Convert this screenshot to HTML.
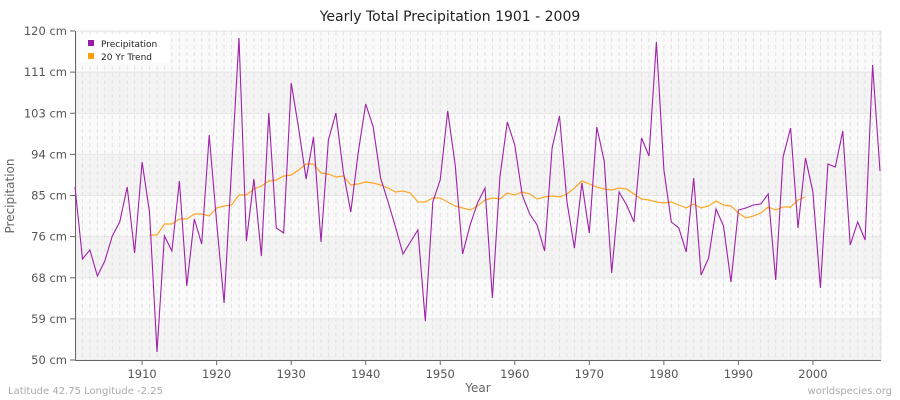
<!DOCTYPE html>
<html><head><meta charset="utf-8"><style>
body{margin:0;background:#fff;}
svg{display:block;font-family:"DejaVu Sans","Liberation Sans",sans-serif;}
</style></head><body>
<svg id="s" width="900" height="400" xmlns="http://www.w3.org/2000/svg">
<rect width="900" height="400" fill="#fff"/>
<g id="bands"></g>
<g id="grid"></g>
<rect x="76" y="31" width="805" height="329" fill="none" stroke="#e4e4e4"/>
<line x1="75.5" y1="31" x2="75.5" y2="360" stroke="#666"/>
<line x1="75" y1="360.5" x2="881" y2="360.5" stroke="#666"/>
<g id="ticks" font-size="11.5" fill="#555"></g>
<polyline id="trend" fill="none" stroke="#ffa726" stroke-width="1.2"/>
<polyline id="prec" fill="none" stroke="#a020a8" stroke-width="1.1"/>
<text x="450" y="21" text-anchor="middle" font-size="14" fill="#222">Yearly Total Precipitation 1901 - 2009</text>
<text x="478" y="392" text-anchor="middle" font-size="12" fill="#666">Year</text>
<text transform="translate(14,196) rotate(-90)" text-anchor="middle" font-size="12" fill="#666">Precipitation</text>
<text x="8" y="394" font-size="10" fill="#aaa">Latitude 42.75 Longitude -2.25</text>
<text x="892" y="394" text-anchor="end" font-size="10" fill="#aaa">worldspecies.org</text>
<rect x="80" y="34" width="90" height="29" rx="3" fill="#fff" opacity="0.9"/>
<rect x="88" y="40" width="6" height="6" fill="#9c1aa2"/>
<rect x="88" y="53" width="6" height="6" fill="#ffa000"/>
<text x="101" y="47" font-size="9" fill="#222">Precipitation</text>
<text x="101" y="60" font-size="9" fill="#222">20 Yr Trend</text>
</svg>
<script>
var NS="http://www.w3.org/2000/svg";
function el(p,t,a){var e=document.createElementNS(NS,t);for(var k in a)e.setAttribute(k,a[k]);document.getElementById(p).appendChild(e);return e;}
var X=function(y){return 75+(y-1901)*7.454;};
var labs=["120 cm","111 cm","103 cm","94 cm","85 cm","76 cm","68 cm","59 cm","50 cm"];
for(var i=0;i<8;i++){var y0=31+i*41.125;el("bands","rect",{x:76,y:y0,width:805,height:41.125,fill:(i%2?"#f3f3f3":"#fafafa")});}
for(var i=0;i<9;i++){var y=31+i*41.125;el("grid","line",{x1:76,x2:881,y1:y,y2:y,stroke:"#e6e6e6"});
var t=el("ticks","text",{x:67,y:y+4,"text-anchor":"end"});t.textContent=labs[i];el("ticks","line",{x1:70,x2:75,y1:y,y2:y,stroke:"#666"});}
for(var yr=1902;yr<=2009;yr++){el("grid","line",{x1:X(yr),x2:X(yr),y1:31,y2:360,stroke:"#e2e2e2","stroke-dasharray":"4,3"});}
for(var yr=1910;yr<=2000;yr+=10){var x=X(yr);el("ticks","line",{x1:x,x2:x,y1:360,y2:365,stroke:"#666"});var t=el("ticks","text",{x:x,y:378,"text-anchor":"middle"});t.textContent=yr;}
var P=[187,259,250,276,261,236,222,187,253,162,212,352,236,251,181,286,219,244,135,222,303,170,38,241,179,256,113,228,233,83,128,179,137,242,140,113,172,212,152,104,127,178,202,227,254,242,230,321,202,180,111,165,254,225,203,188,298,177,122,145,195,214,225,251,148,116,202,248,183,233,127,161,273,192,205,222,138,156,42,170,222,228,252,178,275,258,209,226,282,210,208,205,204,194,280,157,128,228,158,192,288,164,167,131,245,222,240,65,171];
var T=[235,235,224,224,219,219,214,214,216,208,206,205,195,195,189,186,181,180,176,175,170,164,164,173,174,177,176,185,184,182,183,185,188,192,191,193,202,202,198,198,202,206,208,210,206,200,198,199,193,195,192,194,199,197,196,197,194,188,181,184,187,189,190,188,189,194,199,200,202,203,202,205,208,204,208,206,201,205,206,213,218,216,213,207,210,207,207,200,197];
document.getElementById("prec").setAttribute("points",P.map(function(v,i){return X(1901+i).toFixed(1)+","+v;}).join(" "));
document.getElementById("trend").setAttribute("points",T.map(function(v,i){return X(1911+i).toFixed(1)+","+v;}).join(" "));
</script>
</body></html>
